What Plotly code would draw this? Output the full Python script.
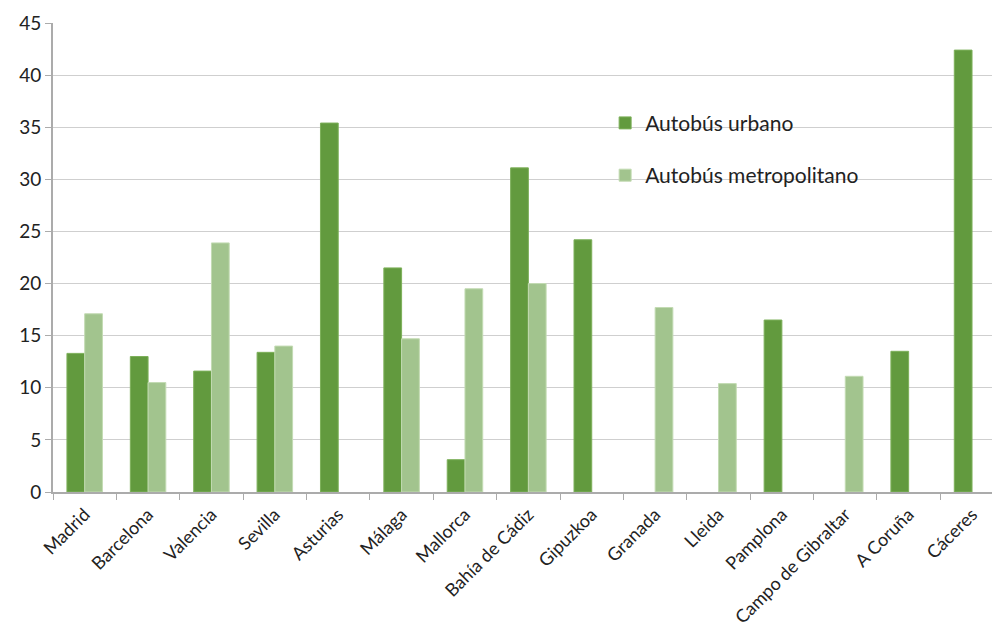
import plotly.graph_objects as go

cities = ["Madrid", "Barcelona", "Valencia", "Sevilla", "Asturias", "Málaga", "Mallorca",
          "Bahía de Cádiz", "Gipuzkoa", "Granada", "Lleida", "Pamplona",
          "Campo de Gibraltar", "A Coruña", "Cáceres"]
urbano = [13.3, 13.0, 11.6, 13.4, 35.4, 21.5, 3.1, 31.1, 24.2, None, None, 16.5, None, 13.5, 42.4]
metropolitano = [17.1, 10.5, 23.9, 14.0, None, 14.7, 19.5, 20.0, None, 17.7, 10.4, None, 11.1, None, None]

FONT = "Lato"

fig = go.Figure()
fig.add_trace(go.Bar(
    x=cities, y=urbano, name="Autobús urbano", legendgroup="u",
    marker=dict(color="#629A3E", line=dict(color="#7DB05A", width=1)),
))
fig.add_trace(go.Bar(
    x=cities, y=metropolitano, name="Autobús metropolitano", legendgroup="m",
    marker=dict(color="#A2C48E", line=dict(color="#C3DBB3", width=1)),
))

fig.update_layout(
    width=992, height=635,
    margin=dict(l=53, r=0, t=23, b=143, autoexpand=False),
    paper_bgcolor="white", plot_bgcolor="white",
    barmode="group", bargap=0.44, bargroupgap=0,
    font=dict(family=FONT, size=16, color="#222222"),
    showlegend=True,
    legend=dict(x=0.588, y=0.83, xanchor="left", yanchor="top",
                bgcolor="rgba(0,0,0,0)", font=dict(size=21, color="#222222"),
                tracegroupgap=22, traceorder="grouped"),
    xaxis=dict(range=[-0.5, 14.315], tickangle=-45, showgrid=False,
               showline=True, linecolor="#ABABAB", linewidth=2,
               ticks="outside", ticklen=6, tickcolor="#ABABAB",
               tickson="boundaries", tickfont=dict(size=18),
               ticklabelstandoff=3, automargin=False),
    yaxis=dict(range=[0, 45], dtick=5, showgrid=True, gridcolor="#CFCFCF", gridwidth=1,
               showline=True, linecolor="#ABABAB", linewidth=2,
               ticks="outside", ticklen=6, tickcolor="#ABABAB",
               tickfont=dict(size=19), zeroline=False, automargin=False),
)

fig.write_html("out.html")
